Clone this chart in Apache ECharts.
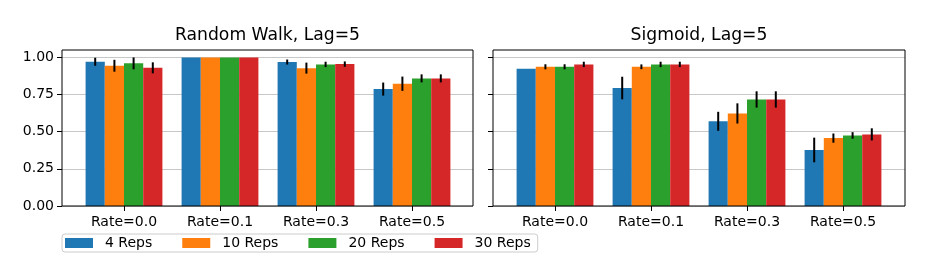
<!DOCTYPE html>
<html>
<head>
<meta charset="utf-8">
<script src="https://cdn.jsdelivr.net/npm/echarts@6/dist/echarts.min.js"></script>
<style>
html,body{margin:0;padding:0;background:#fff;}
#chart{width:934px;height:260px;}
</style>
</head>
<body>
<div id="chart"></div>
<script>
// ---- data ----
const categories = ['Rate=0.0', 'Rate=0.1', 'Rate=0.3', 'Rate=0.5'];
const repNames = ['4 Reps', '10 Reps', '20 Reps', '30 Reps'];
const yTicks = [0, 0.25, 0.5, 0.75, 1.0];
const panelTitles = ['Random Walk, Lag=5', 'Sigmoid, Lag=5'];

// Random Walk panel: means and error half-lengths
const rwMean4  = [0.971, 1.000, 0.969, 0.787];
const rwMean10 = [0.944, 1.000, 0.928, 0.823];
const rwMean20 = [0.960, 1.000, 0.953, 0.859];
const rwMean30 = [0.930, 1.000, 0.955, 0.859];
const rwErr4  = [0.027, 0, 0.017, 0.044];
const rwErr10 = [0.040, 0, 0.037, 0.048];
const rwErr20 = [0.040, 0, 0.018, 0.027];
const rwErr30 = [0.037, 0, 0.018, 0.027];

// Sigmoid panel
const sgMean4  = [0.924, 0.794, 0.570, 0.377];
const sgMean10 = [0.937, 0.937, 0.623, 0.457];
const sgMean20 = [0.937, 0.953, 0.717, 0.475];
const sgMean30 = [0.953, 0.953, 0.717, 0.482];
const sgErr4  = [0, 0.076, 0.064, 0.083];
const sgErr10 = [0.017, 0.016, 0.068, 0.031];
const sgErr20 = [0.017, 0.018, 0.055, 0.022];
const sgErr30 = [0.018, 0.018, 0.055, 0.041];

// ---- styling ----
const colors = ['#1f77b4', '#ff7f0e', '#2ca02c', '#d62728'];
const FONT = 'DejaVu Sans';
const frames = [{left: 62, width: 411}, {left: 493, width: 412}];
const inner = [{left: 76, width: 384}, {left: 507, width: 384}];
const TOP = 50, H = 156;

const panels = [
  {means: [rwMean4, rwMean10, rwMean20, rwMean30], errs: [rwErr4, rwErr10, rwErr20, rwErr30]},
  {means: [sgMean4, sgMean10, sgMean20, sgMean30], errs: [sgErr4, sgErr10, sgErr20, sgErr30]}
];

const grid = [], xAxis = [], yAxis = [], series = [], graphic = [];
panels.forEach((p, pi) => {
  const gFrame = pi * 2, gInner = pi * 2 + 1;
  grid.push({left: frames[pi].left, top: TOP, width: frames[pi].width, height: H,
             show: true, borderColor: '#000', borderWidth: 1, backgroundColor: 'transparent', z: 5});
  grid.push({left: inner[pi].left, top: TOP, width: inner[pi].width, height: H});
  xAxis.push({gridIndex: gFrame, type: 'value', min: 0, max: 1, show: false});
  xAxis.push({gridIndex: gInner, type: 'category', data: categories,
    axisLine: {show: false},
    axisTick: {show: true, alignWithLabel: true, length: 5, lineStyle: {color: '#000', width: 1}},
    axisLabel: {show: true, margin: 9, fontSize: 14, color: '#000', fontFamily: FONT}
  });
  yAxis.push({gridIndex: gFrame, type: 'value', min: 0, max: 1.05, interval: 0.25,
    axisLine: {show: false},
    axisTick: {show: true, length: 5, lineStyle: {color: '#000'}, customValues: yTicks},
    axisLabel: {show: pi === 0, fontSize: 14, color: '#000', fontFamily: FONT, margin: 8,
                customValues: yTicks, formatter: v => v.toFixed(2)},
    splitLine: {show: true, lineStyle: {color: '#c8c8c8', width: 1}}
  });
  yAxis.push({gridIndex: gInner, type: 'value', min: 0, max: 1.05, show: false, splitLine: {show: false}});

  p.means.forEach((m, k) => {
    series.push({
      type: 'bar', name: repNames[k], xAxisIndex: gInner, yAxisIndex: gInner,
      data: m, barWidth: '20%', barGap: '0%', itemStyle: {color: colors[k]}, z: 2
    });
  });
  const errData = [];
  p.means.forEach((m, k) => {
    m.forEach((v, c) => { if (p.errs[k][c] > 0) errData.push([c, v, p.errs[k][c], k]); });
  });
  series.push({
    type: 'custom', xAxisIndex: gInner, yAxisIndex: gInner, z: 4,
    data: errData, encode: {x: 0, y: 1},
    renderItem: (params, api) => {
      const c = api.value(0), m = api.value(1), e = api.value(2), k = api.value(3);
      const bw = api.size([1, 0])[0];
      const x = api.coord([c, 0])[0] + (k - 1.5) * 0.2 * bw;
      const t = api.coord([c, m + e])[1], b = api.coord([c, m - e])[1];
      return {type: 'line', shape: {x1: x, y1: t, x2: x, y2: b},
              style: {stroke: '#000', lineWidth: 2}};
    }
  });
  graphic.push({type: 'text', x: frames[pi].left + frames[pi].width / 2, y: 36,
    style: {text: panelTitles[pi], fill: '#000', font: '17.2px "' + FONT + '"',
            textAlign: 'center', textVerticalAlign: 'middle'}});
});

const chart = echarts.init(document.getElementById('chart'), null, {renderer: 'canvas'});
chart.setOption({
  animation: false,
  backgroundColor: '#fff',
  textStyle: {fontFamily: FONT},
  grid, xAxis, yAxis, series, graphic,
  legend: {
    data: repNames, left: 62, top: 234, orient: 'horizontal',
    icon: 'rect', itemWidth: 28, itemHeight: 10, itemGap: 30,
    padding: [2, 7, 2, 3], borderColor: '#cccccc', borderWidth: 1, borderRadius: 3,
    textStyle: {fontSize: 14, color: '#000', fontFamily: FONT, padding: [0, 0, 0, 7]},
    selectedMode: false
  }
});
</script>
</body>
</html>
